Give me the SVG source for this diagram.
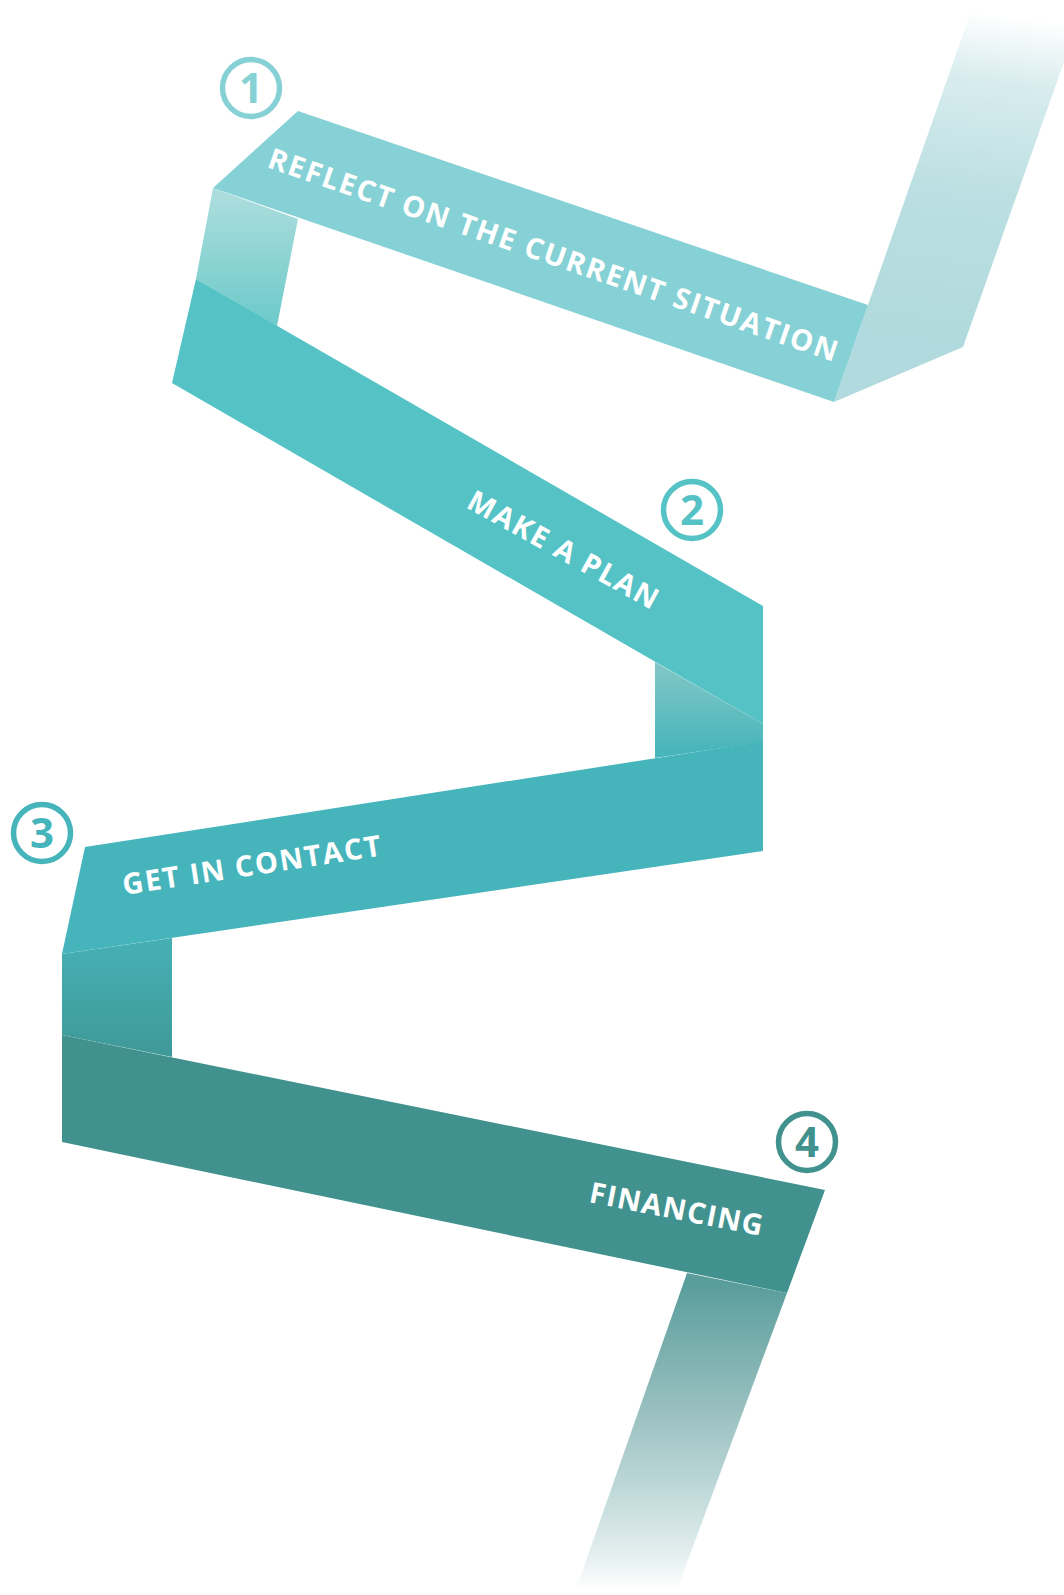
<svg xmlns="http://www.w3.org/2000/svg" width="1064" height="1595" viewBox="0 0 1064 1595">
<defs>
<linearGradient id="gFold0" gradientUnits="userSpaceOnUse" x1="955" y1="345" x2="1000" y2="15">
<stop offset="0" stop-color="#b0dadd"/>
<stop offset="0.45" stop-color="#bbdfe2"/>
<stop offset="0.8" stop-color="#d8ecee"/>
<stop offset="1" stop-color="#ffffff"/>
</linearGradient>
<linearGradient id="gFold1" gradientUnits="userSpaceOnUse" x1="0" y1="195" x2="0" y2="320">
<stop offset="0" stop-color="#acdddd"/>
<stop offset="1" stop-color="#6fcaca"/>
</linearGradient>
<linearGradient id="gFold2" gradientUnits="userSpaceOnUse" x1="0" y1="668" x2="0" y2="752">
<stop offset="0" stop-color="#80c6c6"/>
<stop offset="1" stop-color="#47b5ba"/>
</linearGradient>
<linearGradient id="gFold3" gradientUnits="userSpaceOnUse" x1="0" y1="945" x2="0" y2="1050">
<stop offset="0" stop-color="#46afb3"/>
<stop offset="1" stop-color="#3f9a99"/>
</linearGradient>
<linearGradient id="gFold4" gradientUnits="userSpaceOnUse" x1="0" y1="1285" x2="0" y2="1590">
<stop offset="0" stop-color="#5a9e9c"/>
<stop offset="0.4" stop-color="#98bfbf"/>
<stop offset="0.65" stop-color="#bcd6d7"/>
<stop offset="0.88" stop-color="#e3eeee"/>
<stop offset="1" stop-color="#ffffff"/>
</linearGradient>
<style>
.label{font-family:"Open Sans","Liberation Sans",sans-serif;font-weight:700;font-size:29px;fill:#ffffff;}
.num{font-family:"Open Sans","Liberation Sans",sans-serif;font-weight:700;font-size:42px;text-anchor:middle;}
.ring{fill:#ffffff;stroke-width:5.5;}
</style>
</defs>
<rect width="1064" height="1595" fill="#ffffff"/>
<g id="connectors">
<polygon id="fold0" points="834,402 963,347 1086,0 975,0 868,305" fill="url(#gFold0)"/>
<polygon id="fold1" points="213,188 298,219 277,326 196,279" fill="url(#gFold1)"/>
<polygon id="fold2" points="655,662 763,724 763,742 655,758" fill="url(#gFold2)"/>
<polygon id="fold3" points="62,954 172,938 172,1057 62,1035" fill="url(#gFold3)"/>
<polygon id="fold4" points="687,1273 787,1293 675,1595 574,1595" fill="url(#gFold4)"/>
</g>
<g id="step1">
<polygon points="213,188 298,111 868,305 834,402" fill="#86d1d5"/>
<circle class="ring" cx="251" cy="88" r="28.5" stroke="#86d1d5"/>
<text class="num" x="251" y="103" fill="#86d1d5">1</text>
<text class="label" transform="translate(266,167) rotate(18.95)" textLength="600" lengthAdjust="spacing">REFLECT ON THE CURRENT SITUATION</text>
</g>
<g id="step2">
<polygon points="196,279 763,606 763,724 172,383" fill="#55c3c5"/>
<circle class="ring" cx="692" cy="510" r="28.5" stroke="#55c3c5"/>
<text class="num" x="692" y="525" fill="#55c3c5">2</text>
<text class="label" transform="translate(465,507) rotate(28.9)" textLength="213" lengthAdjust="spacing">MAKE A PLAN</text>
</g>
<g id="step3">
<polygon points="85,847 763,741.5 763,851 62,954" fill="#45b4bb"/>
<circle class="ring" cx="42" cy="833" r="28.5" stroke="#45b4bb"/>
<text class="num" x="42" y="848" fill="#45b4bb">3</text>
<text class="label" transform="translate(124,895) rotate(-8.7)" textLength="261" lengthAdjust="spacing">GET IN CONTACT</text>
</g>
<g id="step4">
<polygon points="62,1035 825,1190 787,1293 62,1142" fill="#41928f"/>
<circle class="ring" cx="807" cy="1142" r="28.5" stroke="#41928f"/>
<text class="num" x="807" y="1157" fill="#41928f">4</text>
<text class="label" transform="translate(588,1202) rotate(11.1)" textLength="176" lengthAdjust="spacing">FINANCING</text>
</g>
</svg>
